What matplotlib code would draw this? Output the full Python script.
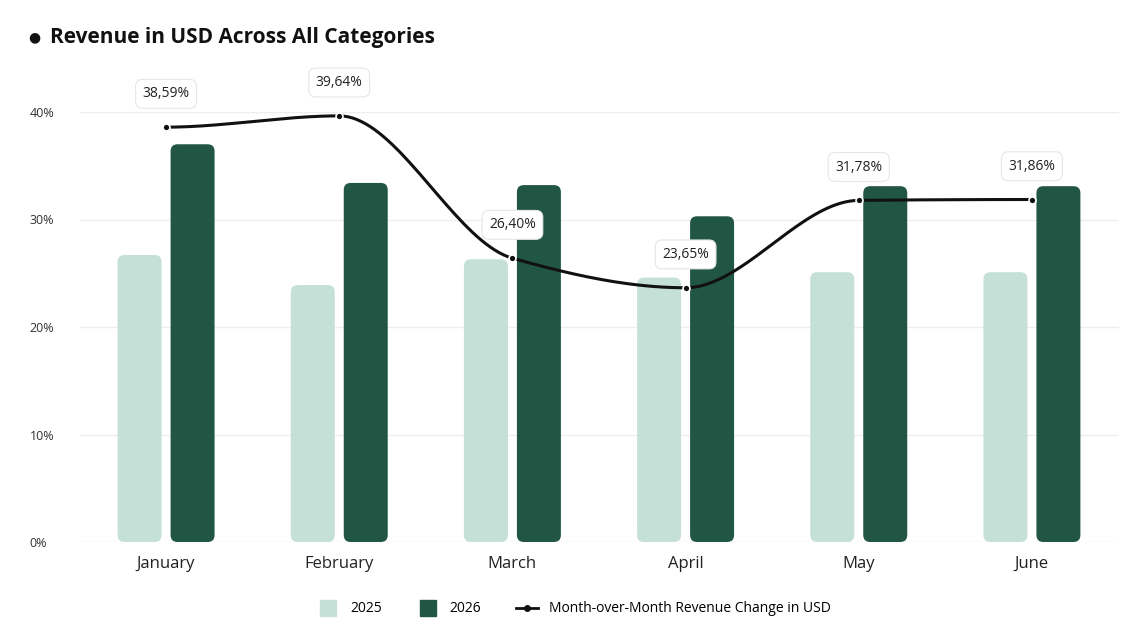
import numpy as np
import matplotlib.pyplot as plt
from matplotlib.patches import FancyBboxPatch
from matplotlib.lines import Line2D

months = ["January", "February", "March", "April", "May", "June"]
rev_2025 = [26.7, 23.9, 26.3, 24.6, 25.1, 25.1]
rev_2026 = [37.0, 33.4, 33.2, 30.3, 33.1, 33.1]
mom_change = [38.59, 39.64, 26.40, 23.65, 31.78, 31.86]

light = "#c5e0d6"
dark = "#215645"

plt.rcParams['font.family'] = ['Open Sans', 'DejaVu Sans']
fig = plt.figure(figsize=(11.48, 6.23), dpi=100)
ax = fig.add_axes([79.5 / 1148, 1 - 542 / 623, 1039 / 1148, 430 / 623])
ax.set_xlim(-0.5, 5.5)
ax.set_ylim(0, 40)

w = 0.254
off = 0.153
aspect = (430 / 40) and (1039 / 6) / (430 / 40)
for i in range(len(months)):
    for v, dx, c in ((rev_2025[i], -off, light), (rev_2026[i], off, dark)):
        ax.add_patch(FancyBboxPatch((i + dx - w / 2, 0), w, v,
                                    boxstyle="round,pad=0,rounding_size=0.04",
                                    mutation_aspect=aspect, fc=c, ec="none", zorder=2))

# smooth line through points (monotone cubic hermite, drawing only)
x = np.arange(len(months), dtype=float)
y = np.array(mom_change)
d = np.diff(y)
m = np.zeros_like(y)
for k in range(1, len(y) - 1):
    if d[k - 1] * d[k] > 0:
        m[k] = 2 / (1 / d[k - 1] + 1 / d[k])
xs, ys = [], []
for k in range(len(y) - 1):
    t = np.linspace(0, 1, 40)
    h00 = 2 * t**3 - 3 * t**2 + 1
    h10 = t**3 - 2 * t**2 + t
    h01 = -2 * t**3 + 3 * t**2
    h11 = t**3 - t**2
    xs.extend(x[k] + t)
    ys.extend(h00 * y[k] + h10 * m[k] + h01 * y[k + 1] + h11 * m[k + 1])
ax.plot(xs, ys, color="#111111", lw=2.2, zorder=4)
ax.plot(x, y, "o", color="#111111", ms=5, mec="white", mew=1.2, zorder=5)
for xi, yi in zip(x, y):
    ax.annotate(f"{yi:.2f}%".replace(".", ","), (xi, yi), xytext=(0, 24),
                textcoords="offset points", ha="center", va="center", fontsize=10,
                color="#222222", zorder=6,
                bbox=dict(boxstyle="round,pad=0.5,rounding_size=0.5", fc="white",
                          ec="#e6e6e6", lw=0.8))

ax.set_yticks([0, 10, 20, 30, 40])
ax.set_yticklabels([f"{t}%" for t in [0, 10, 20, 30, 40]], fontsize=9, color="#333333")
ax.set_xticks(x)
ax.set_xticklabels(months, fontsize=12, color="#222222")
ax.tick_params(length=0)
ax.tick_params(axis="y", pad=36)
ax.tick_params(axis="x", pad=10)
for lab in ax.get_yticklabels():
    lab.set_horizontalalignment("left")
ax.grid(axis="y", color="#eeeeee", lw=1, zorder=0)
for s in ax.spines.values():
    s.set_visible(False)

fig.text(28 / 1148, 1 - 38 / 623, "●", fontsize=10, va="center", color="#111111")
fig.text(50 / 1148, 1 - 38 / 623, "Revenue in USD Across All Categories", fontsize=15,
         fontweight="bold", va="center", color="#111111")

handles = [Line2D([], [], ls="none", marker="s", ms=11, color=light),
           Line2D([], [], ls="none", marker="s", ms=11, color=dark),
           Line2D([], [], color="#111111", lw=2, marker="o", ms=4, markevery=[1])]
fig.legend(handles, ["2025", "2026", "Month-over-Month Revenue Change in USD"],
           loc="center", bbox_to_anchor=(0.5, 1 - 609 / 623), ncol=3, frameon=False,
           fontsize=10, handlelength=1.6, columnspacing=2.5)

fig.savefig("out.png", dpi=100)
